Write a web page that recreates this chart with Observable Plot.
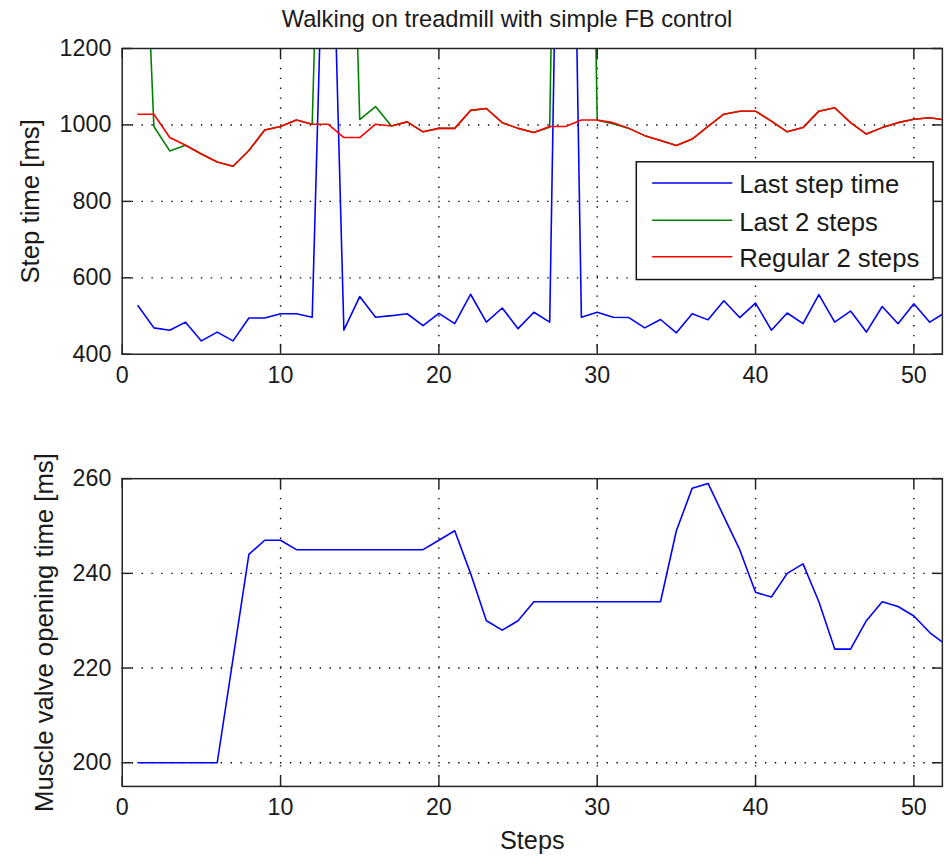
<!DOCTYPE html>
<html>
<head>
<meta charset="utf-8">
<script src="https://cdn.jsdelivr.net/npm/d3@7"></script>
<script src="https://cdn.jsdelivr.net/npm/@observablehq/plot@0.6"></script>
<style>
html, body { margin: 0; padding: 0; background: #fff; overflow: hidden; width: 950px; height: 861px; }
#root { position: relative; width: 950px; height: 861px; overflow: hidden; background: #fff; }
#title { position: absolute; left: 507px; top: 8px; transform: translateX(-50%); white-space: nowrap;
  font-family: "Liberation Sans", Arial, sans-serif; font-size: 23.7px; line-height: 1; color: #1a1a1a; }
#root svg { position: absolute; left: 0; }
</style>
</head>
<body>
<div id="root"><div id="title">Walking on treadmill with simple FB control</div></div>
<script>
// ---- data ----
const steps = [1,2,3,4,5,6,7,8,9,10,11,12,13,14,15,16,17,18,19,20,21,22,23,24,25,26,
  27,28,29,30,31,32,33,34,35,36,37,38,39,40,41,42,43,44,45,46,47,48,49,50,51,52];

const lastStepTime = [527,469,463,484,435,458,435,495,495,506,506,497,2000,463,551,497,501,506,475,507,
  480,557,484,521,467,510,484,3000,497,510,497,496,469,491,456,506,490,540,496,534,
  463,508,480,556,484,513,458,525,480,532,484,510];

const last2Steps = [2000,996,932,947,924,903,892,933,987,996,1013,1002,2497,2463,1014,1048,997,1008,982,991,
  991,1038,1043,1006,991,980,994,3484,3497,1012,1003,991,972,959,946,963,996,1028,1036,1036,
  1010,982,993,1036,1045,1006,976,993,1006,1015,1019,1013];

const regular2Steps = [1028,1028,967,947,924,903,892,933,987,996,1013,1002,1002,967,967,1002,997,1008,982,991,
  991,1038,1043,1006,991,980,996,996,1013,1013,1006,991,972,959,946,963,996,1028,1036,1036,
  1010,982,993,1036,1045,1006,976,993,1006,1015,1019,1013];

const valveTime = [200,200,200,200,200,200,222,244,247,247,245,245,245,245,245,245,245,245,245,247,
  249,240,230,228,230,234,234,234,234,234,234,234,234,234,249,258,259,252,245,236,
  235,240,242,234,224,224,230,234,233,231,227.5,225];

const seriesNames = ["Last step time", "Last 2 steps", "Regular 2 steps"];
const seriesColors = ["#0000ff", "#008000", "#ff0000"];

const xTicks = [0, 10, 20, 30, 40, 50];
const topYTicks = [400, 600, 800, 1000, 1200];
const botYTicks = [200, 220, 240, 260];

// ---- layout ----
const W = 960;              // svg slightly wider than the page: right edge is cropped like the reference
const xMax = 51.8;
const ML = 123;
const MR = W - (ML + 16 * xMax);
const FONT = '"Liberation Sans", Arial, sans-serif';
const gridStyle = {stroke: "#000", strokeOpacity: 1, strokeWidth: 1.4, strokeDasharray: "1.4 8.6"};
const frameStyle = {stroke: "#222", strokeWidth: 1.5};
const fmt = d => String(d);

const topRows = steps.map((s, i) => ({s, blue: lastStepTime[i], green: last2Steps[i], red: regular2Steps[i]}));
const botRows = steps.map((s, i) => ({s, v: valveTime[i]}));

function ticksMarks(yTicks, yLo, yHi, pxPerY) {
  const tx = 10 / 16;            // 10 px inward tick, in x units
  const ty = 10 / pxPerY;        // 10 px inward tick, in y units
  return [
    Plot.ruleY(yTicks, {y: d => d, x1: 0, x2: tx, stroke: "#222", strokeWidth: 1.5}),
    Plot.ruleY(yTicks, {y: d => d, x1: xMax - tx, x2: xMax, stroke: "#222", strokeWidth: 1.5}),
    Plot.ruleX(xTicks, {x: d => d, y1: yLo, y2: yLo + ty, stroke: "#222", strokeWidth: 1.5}),
    Plot.ruleX(xTicks, {x: d => d, y1: yHi, y2: yHi - ty, stroke: "#222", strokeWidth: 1.5})
  ];
}

const topPlot = Plot.plot({
  width: W, height: 400,
  marginLeft: ML, marginRight: MR, marginTop: 48.5, marginBottom: 42.5,
  x: {domain: [0, xMax]},
  y: {domain: [400, 1200]},
  style: {fontFamily: FONT, fontSize: "23.5px", color: "#1a1a1a", background: "transparent", overflow: "visible"},
  marks: [
    Plot.gridY(topYTicks.slice(1, -1), gridStyle),
    Plot.gridX(xTicks.slice(1), gridStyle),
    Plot.line(topRows, {x: "s", y: "blue", stroke: seriesColors[0], strokeWidth: 1.6, clip: true}),
    Plot.line(topRows, {x: "s", y: "green", stroke: seriesColors[1], strokeWidth: 1.6, clip: true}),
    Plot.line(topRows, {x: "s", y: "red", stroke: seriesColors[2], strokeWidth: 1.6, clip: true}),
    Plot.frame(frameStyle),
    ...ticksMarks(topYTicks, 400, 1200, 309 / 800),
    Plot.axisY({ticks: topYTicks, tickSize: 0, tickPadding: 11, tickFormat: fmt, label: null, fontSize: 23.5}),
    Plot.axisX({ticks: xTicks, tickSize: 0, tickPadding: 12, tickFormat: fmt, label: null, fontSize: 23.5}),
    Plot.text(["Step time [ms]"], {frameAnchor: "left", dx: -92, rotate: -90, textAnchor: "middle", lineAnchor: "middle", fontSize: 26, fill: "#1a1a1a"})
  ]
});
topPlot.style.top = "0px";

const botPlot = Plot.plot({
  width: W, height: 461,
  marginLeft: ML, marginRight: MR, marginTop: 79, marginBottom: 71,
  x: {domain: [0, xMax]},
  y: {domain: [195, 260]},
  style: {fontFamily: FONT, fontSize: "23.5px", color: "#1a1a1a", background: "transparent", overflow: "visible"},
  marks: [
    Plot.gridY(botYTicks.slice(0, -1), gridStyle),
    Plot.gridX(xTicks.slice(1), gridStyle),
    Plot.line(botRows, {x: "s", y: "v", stroke: seriesColors[0], strokeWidth: 1.6, clip: true}),
    Plot.frame(frameStyle),
    ...ticksMarks(botYTicks, 195, 260, 311 / 65),
    Plot.axisY({ticks: botYTicks, tickSize: 0, tickPadding: 11, tickFormat: fmt, label: null, fontSize: 23.5}),
    Plot.axisX({ticks: xTicks, tickSize: 0, tickPadding: 12, tickFormat: fmt, label: null, fontSize: 23.5}),
    Plot.text(["Muscle valve opening time [ms]"], {frameAnchor: "left", dx: -78, rotate: -90, textAnchor: "middle", lineAnchor: "middle", fontSize: 26, fill: "#1a1a1a"}),
    Plot.text(["Steps"], {frameAnchor: "bottom", dy: 55, textAnchor: "middle", lineAnchor: "middle", fontSize: 25.5, fill: "#1a1a1a"})
  ]
});
botPlot.style.top = "400px";

const root = document.getElementById("root");
root.appendChild(topPlot);
root.appendChild(botPlot);

// ---- legend (MATLAB-style box inside the top axes) ----
const lg = d3.select(topPlot).append("g").attr("class", "legend").attr("text-anchor", "start");
lg.append("rect").attr("x", 643).attr("y", 163.5).attr("width", 300).attr("height", 119)
  .attr("fill", "#fff").attr("stroke", "#111").attr("stroke-width", 1.5);
const rowY = [185, 222.5, 259.5];
seriesNames.forEach((name, i) => {
  lg.append("line").attr("x1", 659).attr("x2", 740).attr("y1", rowY[i]).attr("y2", rowY[i])
    .attr("stroke", seriesColors[i]).attr("stroke-width", 1.6);
  lg.append("text").attr("x", 747).attr("y", rowY[i] + 10.5).attr("text-anchor", "start")
    .attr("font-family", FONT).attr("font-size", 26).attr("fill", "#1a1a1a").text(name);
});
</script>
</body>
</html>
